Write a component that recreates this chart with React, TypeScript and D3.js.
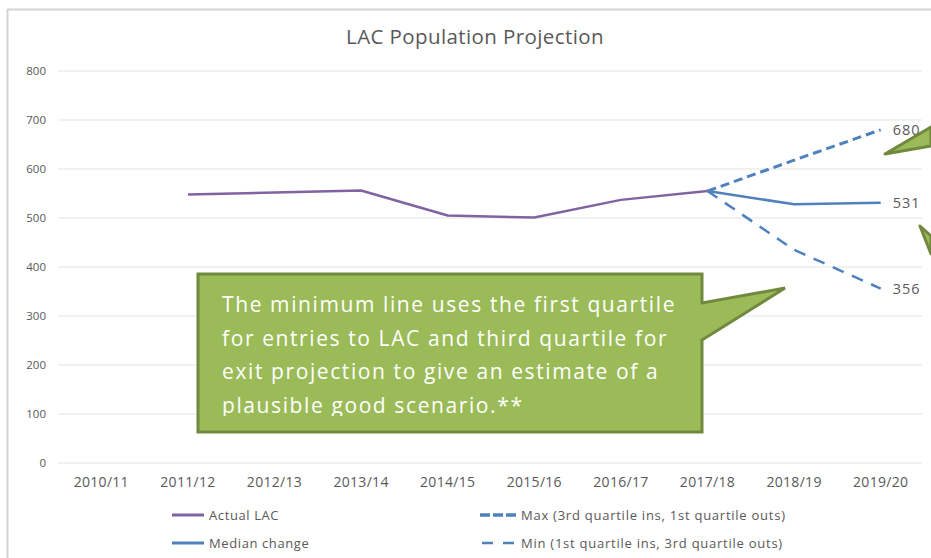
import React from "react";
import * as d3 from "d3";

const categories = ["2010/11", "2011/12", "2012/13", "2013/14", "2014/15", "2015/16", "2016/17", "2017/18", "2018/19", "2019/20"];
const actualLAC: (number | null)[] = [null, 548, 552, 556, 505, 501, 537, 555, null, null];
const medianChange: (number | null)[] = [null, null, null, null, null, null, null, 555, 528, 531];
const maxProj: (number | null)[] = [null, null, null, null, null, null, null, 555, 618, 680];
const minProj: (number | null)[] = [null, null, null, null, null, null, null, 555, 435, 356];
const yTicks = [0, 100, 200, 300, 400, 500, 600, 700, 800];
const endLabels = [
  { value: 680, text: "680" },
  { value: 531, text: "531" },
  { value: 356, text: "356" },
];
const calloutLines = [
  "The minimum line uses the first quartile",
  "for entries to LAC and third quartile for",
  "exit projection to give an estimate of a",
  "plausible good scenario.**",
];

const FONT = "'Open Sans', 'Noto Sans', sans-serif";
const PURPLE = "#8064A2";
const BLUE = "#4F81BD";
const GREEN = "#9BBB59";
const GREEN_DARK = "#71893F";

export default function App() {
  const W = 931, H = 558;
  const x = d3.scalePoint<string>().domain(categories).range([58, 924]).padding(0.5);
  const y = d3.scaleLinear().domain([0, 800]).range([463, 71]);

  const mk = (vals: (number | null)[]) =>
    d3.line<number | null>()
      .defined((d) => d !== null)
      .x((_, i) => x(categories[i]) as number)
      .y((d) => y(d as number))(vals) as string;

  const lastX = x(categories[categories.length - 1]) as number;

  return (
    <svg width={W} height={H} style={{ position: "absolute", left: 0, top: 0, background: "#fff" }} fontFamily={FONT}>
      <rect x={0} y={0} width={W} height={H} fill="#fff" />
      {/* frame */}
      <line x1={7} y1={9.5} x2={931} y2={9.5} stroke="#d4d4d4" strokeWidth={2} />
      <line x1={7.5} y1={9} x2={7.5} y2={558} stroke="#d4d4d4" strokeWidth={2} />

      <text x={475} y={44} textAnchor="middle" fontSize={20.5} letterSpacing={0.4} fill="#595959">LAC Population Projection</text>

      {/* grid */}
      {yTicks.map((t) => (
        <g key={t}>
          <line x1={58} x2={922} y1={y(t)} y2={y(t)} stroke="#e3e3e3" strokeWidth={1} />
          <text x={46} y={y(t) + 4} textAnchor="end" fontSize={11.5} fill="#595959">{t}</text>
        </g>
      ))}
      {categories.map((c) => (
        <text key={c} x={x(c) as number} y={487} textAnchor="middle" fontSize={14} letterSpacing={0.3} fill="#595959">{c}</text>
      ))}

      {/* series */}
      <path d={mk(actualLAC)} fill="none" stroke={PURPLE} strokeWidth={2.5} strokeLinejoin="round" />
      <path d={mk(maxProj)} fill="none" stroke={BLUE} strokeWidth={3} strokeDasharray="9,5" />
      <path d={mk(minProj)} fill="none" stroke={BLUE} strokeWidth={2.5} strokeDasharray="12,9" />
      <path d={mk(medianChange)} fill="none" stroke={BLUE} strokeWidth={2.5} strokeLinejoin="round" />

      {endLabels.map((l) => (
        <text key={l.text} x={lastX + 12} y={y(l.value) + 5} fontSize={14.5} letterSpacing={1} fill="#595959">{l.text}</text>
      ))}

      {/* right side pointers (cut off) */}
      <polygon points="885,154 931,127 931,146" fill={GREEN} stroke={GREEN_DARK} strokeWidth={3} strokeLinejoin="round" />
      <polygon points="920,226 931,236 931,254" fill={GREEN} stroke={GREEN_DARK} strokeWidth={3} strokeLinejoin="round" />

      {/* callout */}
      <defs>
        <clipPath id="calloutClip">
          <rect x={198} y={274} width={504} height={142} />
        </clipPath>
      </defs>
      <path d="M198,274 L702,274 L702,303 L785,288 L702,340 L702,432 L198,432 Z" fill={GREEN} stroke={GREEN_DARK} strokeWidth={3} strokeLinejoin="miter" />
      <g clipPath="url(#calloutClip)">
        {calloutLines.map((t, i) => (
          <text key={i} x={222} y={312 + i * 33.5} fontSize={21} letterSpacing={1.6} fill="#ffffff">{t}</text>
        ))}
      </g>

      {/* legend */}
      <line x1={172} x2={204} y1={515} y2={515} stroke={PURPLE} strokeWidth={3} />
      <text x={209} y={519.5} fontSize={13} letterSpacing={0.6} fill="#595959">Actual LAC</text>
      <line x1={172} x2={204} y1={543} y2={543} stroke={BLUE} strokeWidth={3} />
      <text x={209} y={547.5} fontSize={13} letterSpacing={0.6} fill="#595959">Median change</text>
      <line x1={480} x2={516} y1={515} y2={515} stroke={BLUE} strokeWidth={3.5} strokeDasharray="10,3" />
      <text x={521} y={519.5} fontSize={13} letterSpacing={0.75} fill="#595959">Max (3rd quartile ins, 1st quartile outs)</text>
      <line x1={482} x2={514} y1={543} y2={543} stroke={BLUE} strokeWidth={2.5} strokeDasharray="11,10" />
      <text x={521} y={547.5} fontSize={13} letterSpacing={0.75} fill="#595959">Min (1st quartile ins, 3rd quartile outs)</text>
    </svg>
  );
}
